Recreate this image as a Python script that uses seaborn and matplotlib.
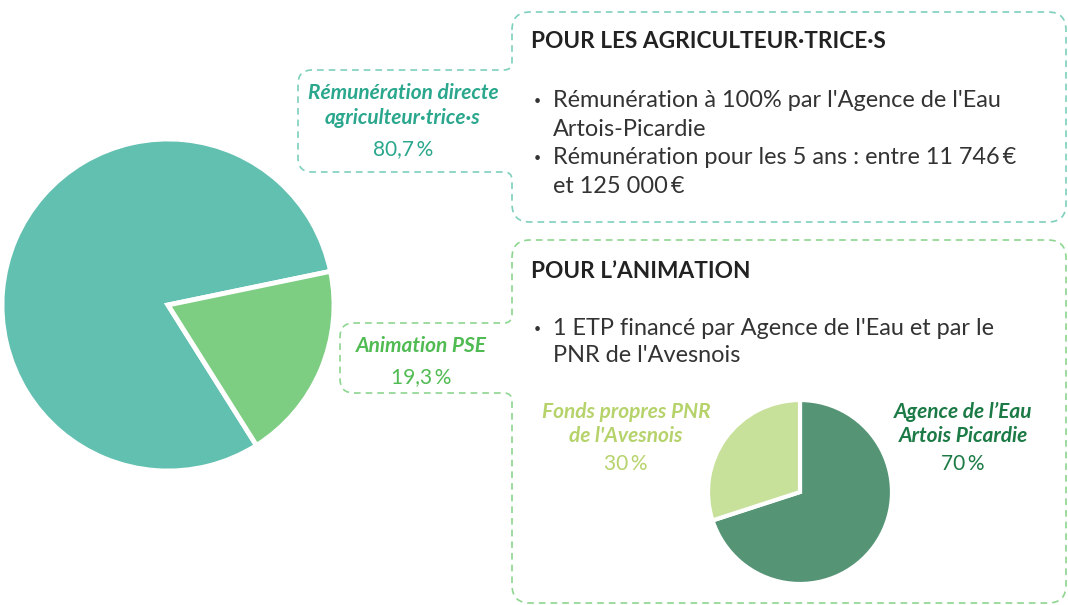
import numpy as np
import matplotlib
matplotlib.use("Agg")
import matplotlib.pyplot as plt
from matplotlib.path import Path
from matplotlib.patches import PathPatch
import seaborn as sns

sns.set_theme(style="white")
plt.rcParams['font.family'] = ['Lato', 'DejaVu Sans']

# data
main_labels = ["Rémunération directe\nagriculteur·trice·s", "Animation PSE"]
main_values = [80.7, 19.3]
main_colors = ["#62c0b0", "#7dcd82"]
main_text_colors = ["#2aa78d", "#4fbb52"]

anim_labels = ["Agence de l’Eau\nArtois Picardie", "Fonds propres PNR\nde l'Avesnois"]
anim_values = [70, 30]
anim_colors = ["#559576", "#c7e09a"]
anim_text_colors = ["#1b7a45", "#b6d36b"]

agri_title = "POUR LES AGRICULTEUR·TRICE·S"
agri_bullets = ["Rémunération à 100% par l'Agence de l'Eau\nArtois-Picardie",
                "Rémunération pour les 5 ans : entre 11\u00a0746\u2009€\net 125\u00a0000\u2009€"]
anim_title = "POUR L’ANIMATION"
anim_bullets = ["1 ETP financé par Agence de l'Eau et par le\nPNR de l'Avesnois"]

W, H = 1068, 605


def pct(v):
    s = f"{v:.1f}".rstrip("0").rstrip(".").replace(".", ",")
    return s + "\u2009%"


def rounded_outline(pts, radii):
    # closed polygon with rounded corners (quadratic curves)
    verts, codes = [], []
    n = len(pts)
    pts = np.array(pts, dtype=float)
    for i in range(n):
        p0, p1, p2 = pts[i - 1], pts[i], pts[(i + 1) % n]
        r = radii[i]
        a = p1 + (p0 - p1) / np.linalg.norm(p0 - p1) * r
        b = p1 + (p2 - p1) / np.linalg.norm(p2 - p1) * r
        verts += [a, p1, b]
        codes += [Path.MOVETO if i == 0 else Path.LINETO, Path.CURVE3, Path.CURVE3]
    verts.append(verts[0])
    codes.append(Path.LINETO)
    return Path(verts, codes)


fig = plt.figure(figsize=(W / 100, H / 100), dpi=100)
ax = fig.add_axes([0, 0, 1, 1])
ax.set_xlim(0, W)
ax.set_ylim(H, 0)
ax.axis("off")

dash = (0, (4, 3))
teal_pts = [(512, 12), (1066, 12), (1066, 222), (512, 222), (512, 172),
            (298, 172), (298, 70), (512, 70)]
ax.add_patch(PathPatch(rounded_outline(teal_pts, [18, 18, 18, 18, 8, 14, 14, 8]),
                       fill=False, ec="#7ed0bd", lw=1.2, ls=dash))
green_pts = [(512, 240), (1066, 240), (1066, 603), (512, 603), (512, 393),
             (340, 393), (340, 323), (512, 323)]
ax.add_patch(PathPatch(rounded_outline(green_pts, [18, 18, 18, 18, 8, 14, 14, 8]),
                       fill=False, ec="#8ed690", lw=1.2, ls=dash))


def pie_axes(cx, cy, r):
    a = fig.add_axes([(cx - r) / W, (H - cy - r) / H, 2 * r / W, 2 * r / H])
    a.axis("off")
    return a


# main pie
pa = pie_axes(168, 305, 166)
pa.pie(main_values, colors=main_colors, startangle=11.7, radius=1,
       wedgeprops=dict(edgecolor="white", linewidth=3.5))
pa.set_xlim(-1, 1)
pa.set_ylim(-1, 1)

# animation pie
pb = pie_axes(800, 492, 92)
pb.pie(anim_values, colors=anim_colors, startangle=90 - 252, radius=1,
       wedgeprops=dict(edgecolor="white", linewidth=3))
pb.set_xlim(-1, 1)
pb.set_ylim(-1, 1)


def label(x, y0, text, value, color, step=25, gap=31):
    # y0 = baseline of first line
    lines = text.split("\n")
    for i, ln in enumerate(lines):
        ax.text(x, y0 + i * step, ln, ha="center", va="baseline", color=color,
                fontsize=15, fontweight="bold", fontstyle="italic")
    ax.text(x, y0 + (len(lines) - 1) * step + gap, pct(value), ha="center",
            va="baseline", color=color, fontsize=15)


main_pos = [(403, 99), (421, 352)]
for lab, v, c, (x, y) in zip(main_labels, main_values, main_text_colors, main_pos):
    label(x, y, lab, v, c)

anim_pos = [(963, 418), (626, 418)]
for lab, v, c, (x, y) in zip(anim_labels, anim_values, anim_text_colors, anim_pos):
    label(x, y, lab, v, c, step=24, gap=28)


# text blocks
def block(title, bullets, ytitle, ybul, step=28.7):
    ax.text(531, ytitle, title, ha="left", va="baseline", fontsize=16.3,
            fontweight="bold", color="#222222")
    y = ybul
    for b in bullets:
        ax.text(537, y - 6, "•", ha="center", va="center", fontsize=9, color="#333333")
        for ln in b.split("\n"):
            ax.text(553, y, ln, ha="left", va="baseline", fontsize=16.9,
                    color="#333333")
            y += step


block(agri_title, agri_bullets, 48, 107)
block(anim_title, anim_bullets, 278, 335, step=27.5)

fig.savefig("out.png", dpi=100)
